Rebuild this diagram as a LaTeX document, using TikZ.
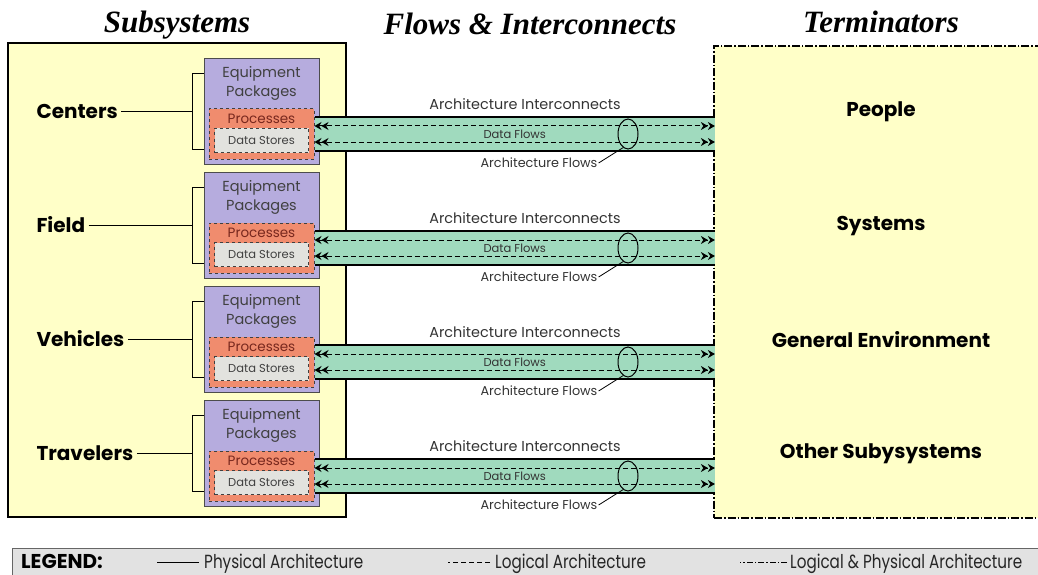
\documentclass[tikz,border=0pt]{standalone}
\usepackage{fontspec}
\setmainfont{Liberation Serif}
\setsansfont{Poppins}
\newfontfamily\legfont{Poppins}[FakeStretch=0.8]
\usetikzlibrary{arrows.meta, shapes.geometric}

\definecolor{subyellow}{RGB}{255,255,200}
\definecolor{eqpurple}{RGB}{182,172,222}
\definecolor{procorange}{RGB}{240,140,110}
\definecolor{storegray}{RGB}{226,226,222}
\definecolor{flowgreen}{RGB}{160,218,190}
\definecolor{leggray}{RGB}{226,226,226}
\definecolor{proctext}{RGB}{120,40,30}

\tikzset{
  title/.style={font=\fontsize{31}{33}\selectfont\bfseries\itshape, anchor=base},
  sublabel/.style={font=\sffamily\bfseries\fontsize{20}{22}\selectfont, anchor=west},
  termlabel/.style={font=\sffamily\bfseries\fontsize{20}{22}\selectfont},
  eqbox/.style={draw=black!70, fill=eqpurple, minimum width=115, minimum height=106, inner sep=0},
  eqtext/.style={font=\sffamily\fontsize{14.5}{19}\selectfont, text=black!75, align=center, inner sep=0},
  procbox/.style={draw=black!75, dashed, line width=1pt, fill=procorange, minimum width=105, minimum height=50, inner sep=0},
  proclabel/.style={font=\sffamily\fontsize{13.5}{15}\selectfont, text=proctext, inner sep=0},
  storebox/.style={draw=black!75, dashed, line width=1pt, fill=storegray, minimum width=94, minimum height=24, inner sep=0,
    font=\sffamily\fontsize{11.5}{13}\selectfont, text=black!75},
  band/.style={fill=flowgreen, minimum width=400, minimum height=34, inner sep=0, anchor=west},
  flowarrow/.style={line width=1pt, dash pattern=on 5pt off 3pt, <<->>},
  flowring/.style={draw, line width=1pt, ellipse, minimum width=20, minimum height=30, inner sep=0},
  smalltext/.style={font=\sffamily\fontsize{11.5}{13}\selectfont, text=black!80, inner sep=1pt},
  flowlabel/.style={font=\sffamily\fontsize{12.8}{14}\selectfont, text=black!80, inner sep=1pt},
  midtext/.style={font=\sffamily\fontsize{14.4}{16}\selectfont, text=black!80, inner sep=1pt},
  termbox/.style={draw, line width=1.5pt, dash pattern=on 8pt off 2pt on 1.5pt off 2pt, fill=subyellow,
    minimum width=340, minimum height=472, inner sep=0},
  legtext/.style={font=\legfont\fontsize{19}{21}\selectfont, text=black!85, anchor=base west, inner sep=0}
}

\begin{document}
\begin{tikzpicture}[x=1pt, y=-1pt, >={Stealth[length=7pt, width=8pt]}]
  \useasboundingbox (0,0) rectangle (1038,575);
  \clip (0,0) rectangle (1038,575);

  % Column titles
  \node[title] (ttlsub) at (177,33) {Subsystems};
  \node[title] (ttlflow) at (530,35) {Flows \& Interconnects};
  \node[title] (ttlterm) at (881,33) {Terminators};

  % Subsystems and terminators boxes
  \node[draw, line width=1.5pt, fill=subyellow, minimum width=338, minimum height=474, inner sep=0] (subs) at (177,280) {};
  \node[termbox] (term) at (884,282) {};

  % One row per subsystem
  \foreach \sname/\tname [count=\n from 0] in {Centers/People, Field/Systems,
      Vehicles/General Environment, Travelers/Other Subysystems}{
    \node[sublabel] (sub\n) at (33,111+114*\n) {\sname};
    \node[eqbox] (ep\n) at (261.5,111+114*\n) {};
    \node[eqtext] (ept\n) at (261.5,83+114*\n) {Equipment\\Packages};
    \node[procbox] (proc\n) at (261.5,134+114*\n) {};
    \node[proclabel] (pl\n) at (261.5,119+114*\n) {Processes};
    \node[storebox] (ds\n) at (261.5,140.5+114*\n) {Data Stores};

    % bracket to the label
    \draw[line width=0.8pt] ([yshift=38pt]ep\n.west) -- ++(-11,0) coordinate (br\n) |- ([yshift=-38pt]ep\n.west);
    \draw[line width=0.8pt] (sub\n.east) -- (sub\n.east -| br\n);

    % interconnect band with its flows
    \node[band] (ic\n) at (proc\n.east) {};
    \draw[line width=1.5pt] (ic\n.north west) -- (ic\n.north east);
    \draw[line width=1.5pt] (ic\n.south west) -- (ic\n.south east);
    \draw[flowarrow] ([yshift=8pt]ic\n.west) -- ([yshift=8pt]ic\n.east);
    \draw[flowarrow] ([yshift=-8pt]ic\n.west) -- ([yshift=-8pt]ic\n.east);
    \node[smalltext] (df\n) at (ic\n.center) {Data Flows};
    \node[midtext] (ai\n) at (525,104+114*\n) {Architecture Interconnects};
    \node[flowring] (ring\n) at (628,134+114*\n) {};
    \node[flowlabel] (afl\n) at (539,163+114*\n) {Architecture Flows};
    \draw[line width=0.8pt] (afl\n.east) -- (ring\n.250);

    \node[termlabel] (tl\n) at (881,112+114*\n) {\tname};
  }

  % Legend
  \node[draw=black!60, line width=1pt, fill=leggray, minimum width=1040, minimum height=40, anchor=north west, inner sep=0] (leg) at (12,548) {};
  \node[legtext, font=\sffamily\bfseries\fontsize{20}{22}\selectfont, text=black] (legt) at (21,568) {LEGEND:};
  \node[legtext] (lphys) at (204,568) {Physical Architecture};
  \draw[line width=1pt] ([shift={(-5pt,6pt)}]lphys.base west) -- ++(-42,0);
  \node[legtext] (llog) at (495,568) {Logical Architecture};
  \draw[line width=1pt, dash pattern=on 5pt off 3pt] ([shift={(-5pt,6pt)}]llog.base west) -- ++(-42,0);
  \node[legtext] (lboth) at (790,568) {Logical \& Physical Architecture};
  \draw[line width=1pt, dash pattern=on 6pt off 2pt on 1.5pt off 2pt] ([shift={(-3pt,6pt)}]lboth.base west) -- ++(-47,0);
\end{tikzpicture}
\end{document}
